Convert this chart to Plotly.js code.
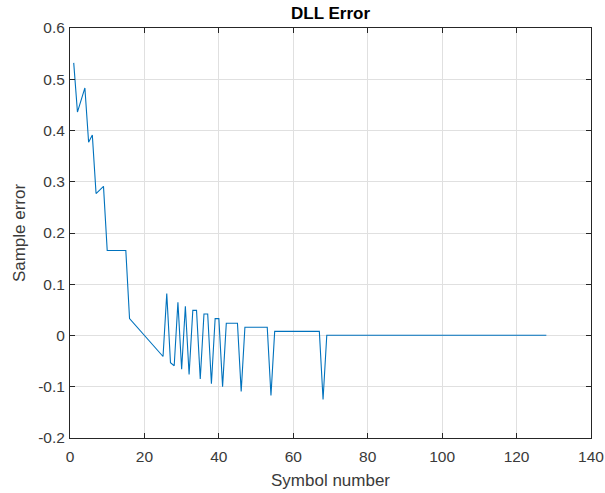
<!DOCTYPE html>
<html>
<head>
<meta charset="utf-8">
<script src="https://cdn.plot.ly/plotly-3.0.1.min.js"></script>
<style>html,body{margin:0;padding:0;background:#fff;overflow:hidden;}#chart{width:605px;height:493px;}</style>
</head>
<body>
<div id="chart"></div>
<script>
// Vertices of the DLL error curve (symbol number, sample error)
var symbolNumber = [1, 2, 4, 5, 6, 7, 9, 10, 15, 16, 25, 26, 27, 28, 29, 30, 31, 32, 33, 34, 35, 36, 37, 38, 39, 40, 41, 42, 45, 46, 47, 53, 54, 55, 67, 68, 69, 128];
var sampleError = [0.532, 0.436, 0.483, 0.377, 0.391, 0.277, 0.291, 0.166, 0.166, 0.033, -0.041, 0.082, -0.053, -0.059, 0.065, -0.066, 0.057, -0.076, 0.049, 0.049, -0.085, 0.042, 0.042, -0.094, 0.033, 0.033, -0.1, 0.024, 0.024, -0.109, 0.016, 0.016, -0.117, 0.008, 0.008, -0.125, 0.0005, 0.0005];

var xTickVals = [0, 20, 40, 60, 80, 100, 120, 140];
var xTickText = ['0', '20', '40', '60', '80', '100', '120', '140'];
var yTickVals = [-0.2, -0.1, 0, 0.1, 0.2, 0.3, 0.4, 0.5, 0.6];
var yTickText = ['-0.2', '-0.1', '0', '0.1', '0.2', '0.3', '0.4', '0.5', '0.6'];

var FONT = 'Liberation Sans, Arial, Helvetica, sans-serif';

var trace = {
  x: symbolNumber,
  y: sampleError,
  type: 'scatter',
  mode: 'lines',
  line: {color: '#0072BD', width: 1.1},
  hoverinfo: 'none'
};

var axisCommon = {
  showline: true,
  linecolor: '#262626',
  linewidth: 1,
  mirror: 'ticks',
  ticks: 'inside',
  ticklen: 5,
  tickwidth: 1,
  tickcolor: '#262626',
  showgrid: true,
  gridcolor: '#e0e0e0',
  gridwidth: 1,
  zeroline: false,
  tickfont: {family: FONT, size: 15.5, color: '#3a3a3a'},
  tickmode: 'array'
};

var layout = {
  width: 605,
  height: 493,
  margin: {l: 70, r: 14, t: 28, b: 55},
  paper_bgcolor: '#ffffff',
  plot_bgcolor: '#ffffff',
  showlegend: false,
  title: {
    text: '<b>DLL Error</b>',
    font: {family: FONT, size: 17, color: '#000000'},
    x: 0.5, xref: 'paper', xanchor: 'center',
    y: 1, yref: 'paper', yanchor: 'bottom', pad: {b: 9}
  },
  xaxis: Object.assign({}, axisCommon, {
    range: [0, 140],
    tickvals: xTickVals,
    ticktext: xTickText,
    ticklabelstandoff: 4,
    title: {text: 'Symbol number', font: {family: FONT, size: 17, color: '#3a3a3a'}, standoff: 10}
  }),
  yaxis: Object.assign({}, axisCommon, {
    range: [-0.2, 0.6],
    tickvals: yTickVals,
    ticktext: yTickText,
    ticklabelstandoff: 1,
    title: {text: 'Sample error', font: {family: FONT, size: 17, color: '#3a3a3a'}, standoff: 8}
  })
};

Plotly.newPlot('chart', [trace], layout, {displayModeBar: false, staticPlot: true});
</script>
</body>
</html>
